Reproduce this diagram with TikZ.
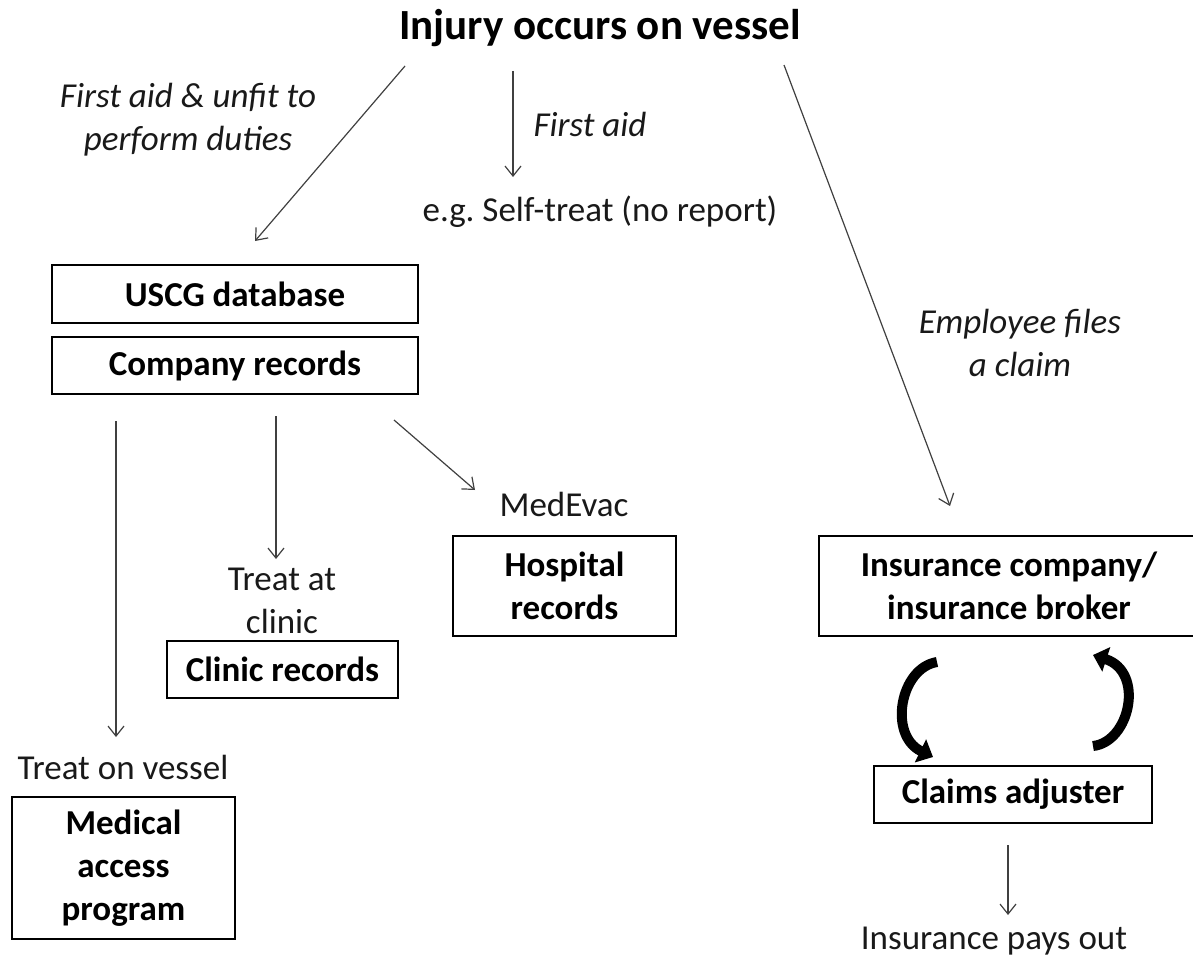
\documentclass[tikz,border=0pt]{standalone}
\usepackage{fontspec}
\setmainfont{Carlito}
\usetikzlibrary{arrows.meta}
\frenchspacing
\begin{document}
\begin{tikzpicture}[x=1pt,y=-1pt,
  txt/.style={font=\fontsize{35}{43}\selectfont, align=center, inner sep=0pt, text=black!90},
  itxt/.style={font=\fontsize{35}{43}\selectfont\itshape, align=center, inner sep=0pt, text=black!90},
  box/.style={draw=black, line width=1.5pt, font=\fontsize{35}{43}\selectfont\bfseries, align=center, inner sep=0pt},
  thinarrow/.style={draw=black!75, line width=1.2pt, -{Straight Barb[length=10pt,width=16pt]}},
  thickarrow/.style={draw=black, line width=10pt, -{Triangle[length=14pt,width=25pt]}}
]
\fill[white] (0,0) rectangle (1193,963);
\useasboundingbox (0,0) rectangle (1193,963);

% texts
\node[font=\fontsize{43}{52}\selectfont\bfseries, inner sep=0pt] (title) at (600,28) {Injury occurs on vessel};
\node[itxt] (lab1) at (188,120) {First aid \& unfit to\\perform duties};
\node[itxt] (lab2) at (590,124) {First aid};
\node[txt] (self) at (600,212) {e.g. Self-treat (no report)};
\node[itxt] (lab3) at (1020,343) {Employee files\\a claim};

% boxes
\node[box, minimum width=366pt, minimum height=58pt] (uscg) at (235,294) {USCG database};
\node[box, minimum width=366pt, minimum height=57pt] (comp) at (235,365.5) {Company records};
\node[txt] (clinlab) at (282,601) {Treat at\\clinic};
\node[box, minimum width=231pt, minimum height=57pt] (clinic) at (282.5,669.5) {Clinic records};
\node[txt] (medevac) at (564,504) {MedEvac};
\node[box, minimum width=223pt, minimum height=100pt] (hosp) at (564.5,586) {Hospital\\records};
\node[txt] (vessel) at (123,767) {Treat on vessel};
\node[box, minimum width=223pt, minimum height=142pt] (medical) at (123.5,868) {Medical\\access\\program};
\node[box, minimum width=380pt, minimum height=100pt] (ins) at (1009,586) {Insurance company/\\insurance broker};
\node[box, minimum width=278pt, minimum height=57pt] (claims) at (1013,794.5) {Claims adjuster};
\node[txt] (pays) at (994,941) {Insurance pays out};

% connector end points
\coordinate (a1s) at (405,66);  \coordinate (a1e) at (255,241);
\coordinate (a2s) at (513,71);  \coordinate (a2e) at (513,177);
\coordinate (a3s) at (784,65);  \coordinate (a3e) at (950,506);
\coordinate (a4s) at (116,421); \coordinate (a4e) at (116,737);
\coordinate (a5s) at (276,416); \coordinate (a5e) at (276,559);
\coordinate (a6s) at (394,420); \coordinate (a6e) at (475,490);
\coordinate (a7s) at (1008,845); \coordinate (a7e) at (1008,915);
\coordinate (c1s) at (937,662); \coordinate (c1e) at (933,757);
\coordinate (c2s) at (1093,746); \coordinate (c2e) at (1093,655);

\draw[thinarrow] (a1s) -- (a1e);
\draw[thinarrow] (a2s) -- (a2e);
\draw[thinarrow] (a3s) -- (a3e);
\draw[thinarrow] (a4s) -- (a4e);
\draw[thinarrow] (a5s) -- (a5e);
\draw[thinarrow] (a6s) -- (a6e);
\draw[thinarrow] (a7s) -- (a7e);

\draw[thickarrow] (c1s) .. controls (900,668) and (888,735) .. (c1e);
\draw[thickarrow] (c2s) .. controls (1130,742) and (1145,672) .. (c2e);
\end{tikzpicture}
\end{document}
